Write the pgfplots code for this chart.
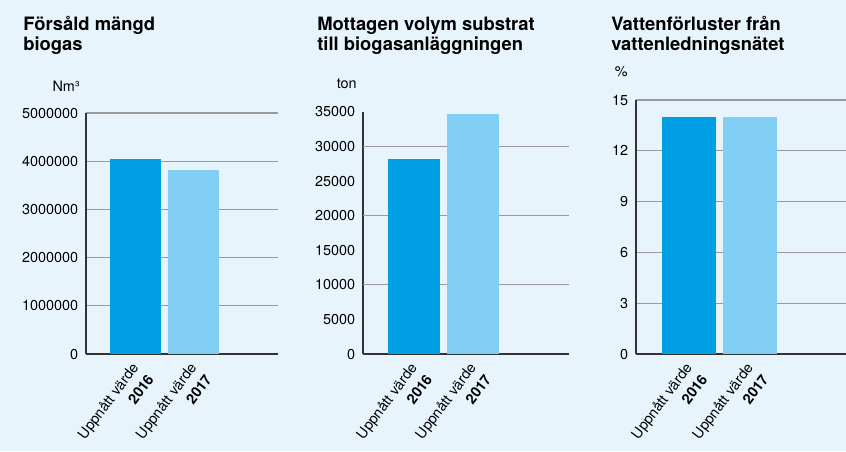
\documentclass[border=0pt]{standalone}
\usepackage{fontspec}
\setmainfont{TeX Gyre Heros}
\usepackage{pgfplots}
\pgfplotsset{compat=1.18}
\definecolor{bgc}{HTML}{E8F4FC}
\definecolor{barA}{HTML}{009FE3}
\definecolor{barB}{HTML}{82CFF5}
\definecolor{gridc}{HTML}{9A9A9A}
\definecolor{axc}{HTML}{333333}
\newcommand{\tfont}{\fontsize{13.8}{15}\selectfont\bfseries}
\newcommand{\lfont}{\fontsize{10.8}{13.5}\selectfont}
\pgfplotsset{
  panel/.style={
    scale only axis,
    anchor=origin,
    ymin=0,
    axis lines*=left,
    axis line style={-},
    x axis line style={line width=1.6pt, color=axc},
    y axis line style={line width=0.8pt, color=axc},
    major tick length=0pt,
    tick style={draw=none},
    scaled y ticks=false,
    ybar, bar shift=0pt,
    xtick={1,2},
    xticklabels={{Uppnått värde\\[1pt]\textbf{2016}},{Uppnått värde\\[1pt]\textbf{2017}}},
    xticklabel style={xshift=-4pt, yshift=-4pt, rotate=53, anchor=north east, align=right, font=\lfont, inner sep=1pt},
    yticklabel style={font=\lfont, xshift=-2.4pt,
      /pgf/number format/.cd, fixed, precision=0, 1000 sep={}, assume math mode=true},
    yticklabel={\lfont\pgfmathprintnumber{\tick}},
    grid style={line width=0.9pt, color=gridc},
    clip=false,
  }
}
\begin{document}
\begin{tikzpicture}
\useasboundingbox (0,0) rectangle (634.5pt,338.25pt);
\clip (0,0) rectangle (634.5pt,338.25pt);
\fill[bgc] (0,0) rectangle (634.5pt,338.25pt);

% Titles
\node[anchor=base west, inner sep=0] at (17.25pt,315pt) {\tfont Försåld mängd};
\node[anchor=base west, inner sep=0] at (17.25pt,300pt) {\tfont biogas};
\node[anchor=base west, inner sep=0] at (237.75pt,315pt) {\tfont Mottagen volym substrat};
\node[anchor=base west, inner sep=0] at (237.75pt,300pt) {\tfont till biogasanläggningen};
\node[anchor=base west, inner sep=0] at (458.25pt,315pt) {\tfont Vattenförluster från};
\node[anchor=base west, inner sep=0] at (458.25pt,300pt) {\tfont vattenledningsnätet};

% Units
\node[anchor=base east, inner sep=0] at (60pt,269.25pt) {\lfont Nm³};
\node[anchor=base east, inner sep=0] at (267.75pt,272.25pt) {\lfont ton};
\node[anchor=base east, inner sep=0] at (471pt,280.5pt) {\lfont \%};

% Panel 1
\begin{axis}[panel, at={(64.5pt,72.75pt)}, width=144pt, height=180.75pt,
  xmin=0.1466, xmax=3.457, ymax=5000000,
  ytick={0,1000000,2000000,3000000,4000000,5000000},
  ymajorgrids, bar width=0.879]
\addplot[fill=barA, draw=none] coordinates {(1,4050000)};
\addplot[fill=barB, draw=none] coordinates {(2,3820000)};
\end{axis}

% Panel 2
\begin{axis}[panel, at={(272.25pt,72.75pt)}, width=154.5pt, height=181.5pt,
  xmin=0.136, xmax=3.627, ymax=35000,
  ytick={0,5000,10000,15000,20000,25000,30000,35000},
  extra y ticks={10000,20000,30000}, extra y tick labels={},
  extra y tick style={ymajorgrids=true, tick style={draw=none}},
  bar width=0.88]
\addplot[fill=barA, draw=none] coordinates {(1,28200)};
\addplot[fill=barB, draw=none] coordinates {(2,34650)};
\end{axis}

% Panel 3
\begin{axis}[panel, at={(477pt,72.75pt)}, width=159pt, height=190.5pt,
  xmin=0.131, xmax=3.606, ymax=15,
  ytick={0,3,6,9,12,15},
  ymajorgrids, bar width=0.9]
\addplot[fill=barA, draw=none] coordinates {(1,14)};
\addplot[fill=barB, draw=none] coordinates {(2,14)};
\end{axis}
\end{tikzpicture}
\end{document}
